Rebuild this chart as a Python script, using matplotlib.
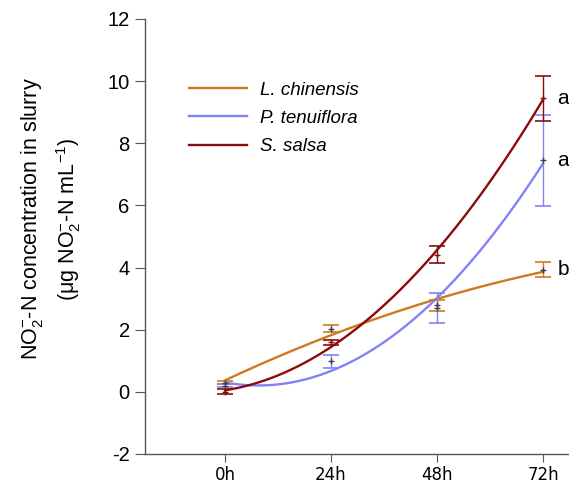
import numpy as np
import matplotlib
matplotlib.use('Agg')
import matplotlib.pyplot as plt

plt.rcParams['font.family'] = ['Liberation Sans', 'DejaVu Sans']
plt.rcParams['mathtext.fontset'] = 'custom'
plt.rcParams['mathtext.rm'] = 'Liberation Sans'
plt.rcParams['mathtext.it'] = 'Liberation Sans:italic'
plt.rcParams['axes.unicode_minus'] = False

# sampling times (h) and tick labels
hours = [0, 24, 48, 72]
tick_labels = ['0h', '24h', '48h', '72h']

# NO2--N in slurry, mean and error per species
species = ['L. chinensis', 'P. tenuiflora', 'S. salsa']
l_chinensis = [0.30, 2.03, 2.78, 3.93]
l_chinensis_err = [0.05, 0.11, 0.17, 0.25]
p_tenuiflora = [0.20, 0.98, 2.71, 7.45]
p_tenuiflora_err = [0.05, 0.21, 0.48, 1.47]
s_salsa = [0.00, 1.59, 4.41, 9.45]
s_salsa_err = [0.08, 0.08, 0.27, 0.72]

# significance letters at 72h
letters = ['b', 'a', 'a']

colors = ['#cc7a1e', '#8282f8', '#8b0b0b']
point_colors = ['#3a3a5a', '#444444', '#8b0b0b']

fig = plt.figure(figsize=(5.69, 4.84), dpi=100)
ax = fig.add_axes([0.2548, 0.062, 0.7452, 0.8988])

x = np.array(hours, dtype=float)
xs = np.linspace(x[0], x[-1], 200)
series = [(l_chinensis, l_chinensis_err), (p_tenuiflora, p_tenuiflora_err),
          (s_salsa, s_salsa_err)]

for (y, err), name, c, pc, let in zip(series, species, colors, point_colors, letters):
    # quadratic trend through the means
    coef = np.polyfit(x, y, 2)
    ax.plot(xs, np.polyval(coef, xs), color=c, lw=1.7, label=name, zorder=2)
    ax.errorbar(x, y, yerr=err, fmt='none', ecolor=c, elinewidth=1.0,
                capsize=6, capthick=1.2, zorder=3)
    ax.plot(x, y, '+', color=pc, ms=5, mew=1.0, zorder=4)
    ax.text(x[-1] + 3.3, y[-1], let, fontsize=15, va='center', ha='left')

ax.set_xlim(-18.1, 77.9)
ax.set_ylim(-2, 12)
ax.set_xticks(hours)
ax.set_xticklabels(tick_labels, family='DejaVu Sans', fontsize=12)
ax.set_yticks(range(-2, 13, 2))
ax.tick_params(axis='y', labelsize=14.5, length=7, color='#555555', pad=4)
ax.tick_params(axis='x', length=6, color='#555555', pad=2.5)

for side in ['top', 'right']:
    ax.spines[side].set_visible(False)
for side in ['left', 'bottom']:
    ax.spines[side].set_color('#555555')
    ax.spines[side].set_linewidth(1.0)

ax.set_ylabel('NO$_2^{-}$-N concentration in slurry\n'
              '(\u03bcg NO$_2^{-}$-N mL$^{-1}$)', fontsize=15.5, labelpad=17.5,
              linespacing=1.45)
ax.yaxis.label.set_y(0.54)

leg = ax.legend(loc='upper left', bbox_to_anchor=(0.065, 0.895), frameon=False,
                fontsize=13.5, handlelength=3.05, handletextpad=0.7, labelspacing=0.6)
for t in leg.get_texts():
    t.set_fontstyle('italic')

fig.savefig('out.png', dpi=100)
